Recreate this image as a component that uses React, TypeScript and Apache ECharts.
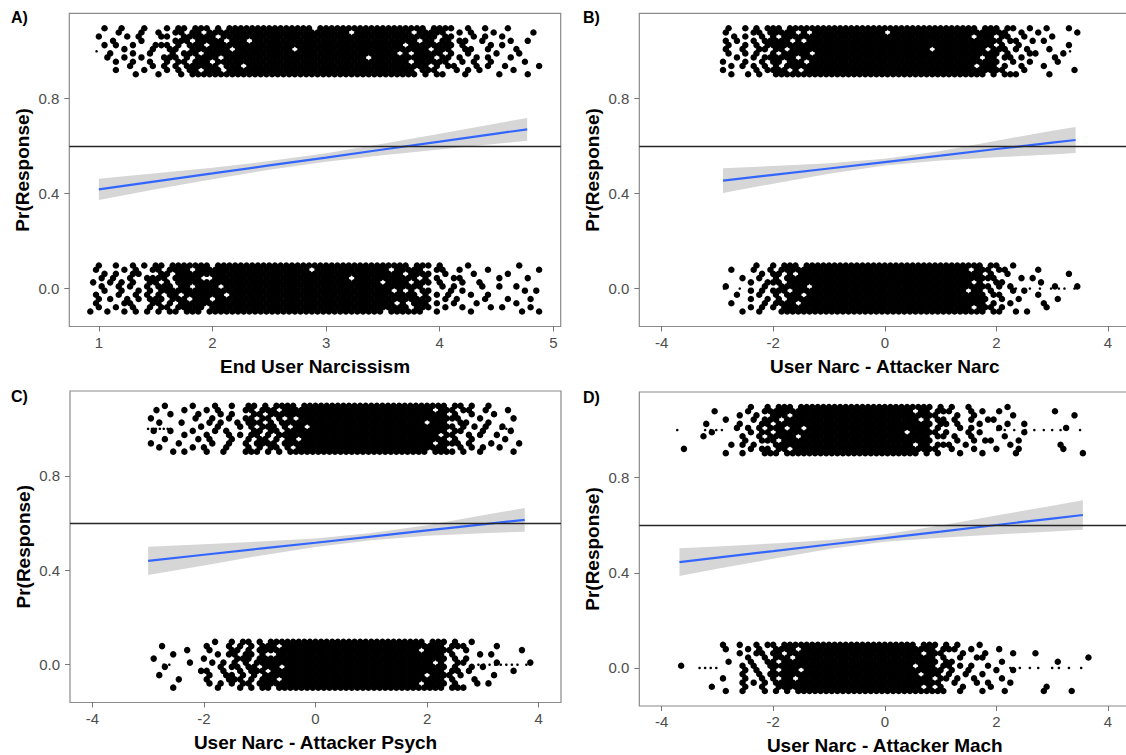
import React, { useEffect, useRef } from "react";
import * as echarts from "echarts";

// Vertical jitter rows (offset from the 0 / 1 response value)
const ROW_OFFSETS = [0.097, 0.079, 0.062, 0.044, 0.026, 0.009, -0.009, -0.026, -0.044, -0.062, -0.079, -0.097];

// Column grids of the jittered point maps ('#' = point, '.' = empty, '|' = visual separator)
const A_COL_START = 0.9;
const A_COL_STEP = 0.05;
const DIFF_COL_START = -3.8;
const DIFF_COL_STEP = 0.1;

// ---------- Panel A: End User Narcissism ----------
const A_TOP = [
  "..|.#|..#...#...|#.##.|###.|#.########|#######.##|##########|######|#.###|#..#.|.#...#.|....|.",
  "..|..|.#...#..#.|.##.#|#.##|##########|##########|###.######|####.#|####.|.#.#.|..#....|..#.|.",
  "..|#.|...#.#...#|#..##|####|.#########|##########|##########|######|###.#|#...#|.#..#..|....|.",
  "..|..|#....#....|.###.|####|#.###.####|##########|##########|#####.|##.##|.##..|#....#.|.#..|.",
  "..|.#|.#..#...##|#.#.#|##.#|##########|##########|##########|###.##|#####|#.#..|..#.#..|....|.",
  "..|..|..#....#..|##..#|####|##.#######|###.######|##########|######|#.###|..##.|.#....#|....|.",
  "..|..|#...#..#..|.#.##|#.##|##########|##########|##########|##.#.#|####.|#..#.|...#...|#...|.",
  "..|.#|..#..#...#|##.#.|####|.#########|##########|######.###|######|##.##|.#..#|.#...#.|....|.",
  "..|..|.#..#..#..|#.##.|###.|##########|##########|##########|####.#|#####|..#.#|..#....|.#..|.",
  "..|..|...#...#.#|.#.##|####|.###.#####|##########|##########|######|#.#.#|#...#|.#..#..|...#|.",
  "..|..|.#....#...|#.#.#|#.##|#.########|##########|##########|#####.|###..|.#.#.|#.....#|....|.",
  "..|..|....#...#.|..#.#|####|##########|##########|##########|#####.|#.##.|..#..|...#...|.#..|.",
];
const A_BOT = [
  ".|.#..|#..#.#.|##.##|####|#.########|##########|##########|####|##.##|#.#..|..#.....|...#...|.",
  ".|#...|.#.#..#|#.###|#.##|##########|########.#|##########|##.#|####.|.##..|#....#..|......#|.",
  ".|..#.|#..##..|.##.#|####|##########|##########|##########|####|#.###|#..#.|...#....|.#.....|.",
  ".|.#.#|..#..##|##.##|###.|.#########|##########|#####.####|####|###.#|.#..#|#......#|....#..|.",
  ".|#..#|.#.#..#|#.#.#|####|##########|##########|##########|#.##|##.##|#.#..|.#..#...|.......|.",
  ".|.#..|#.#..#.|###.#|#.##|##.#######|##########|##########|####|####.|..#.#|....#..#|..#....|.",
  ".|..#.|.#..#.#|.####|####|##########|##########|##########|###.|#.#.#|#...#|.#......|....#.#|.",
  ".|#...|#..#.#.|#.##.|####|###.######|##########|##########|####|###.#|.#.#.|..#..#..|.......|.",
  ".|.#.#|..#.#.#|##.##|#.##|#.########|##########|##########|####|#####|#..#.|#....#..|.#...#.|.",
  ".|#...|.##...#|#.#.#|####|##########|##########|##########|###.|#.###|.#..#|...#....|..#....|.",
  ".|.#..|#..#..#|.##.#|####|.#########|##########|##########|####|##.##|#..#.|.#....#.|#....#.|.",
  "#|..#.|.#.#.#.|#.##.|###.|##########|##########|##########|#.##|####.|.#...|..#.....|...#..#|.",
];
const A_TOP_SMALL = [0.98];
const A_BOT_SMALL: number[] = [];
const A_FIT_X = [1.0, 1.5, 2.0, 2.5, 3.0, 3.5, 4.0, 4.5, 4.77];
const A_FIT = [0.418, 0.452, 0.485, 0.519, 0.552, 0.586, 0.619, 0.653, 0.671];
const A_LO = [0.373, 0.418, 0.461, 0.501, 0.534, 0.562, 0.586, 0.61, 0.623];
const A_HI = [0.463, 0.486, 0.509, 0.537, 0.57, 0.61, 0.652, 0.696, 0.719];

// ---------- Panel B: User Narc - Attacker Narc ----------
const B_TOP = [
  ".........|.#..|#.#.#|##.##|##########|##########|##########|##.#|##.#|#..#|..#.|..#.|....",
  ".........|#...|.##.#|####.|#.########|#####.####|##########|####|###.|.#..|#...|...#|....",
  ".........|..#.|#..#.|#.###|##########|##########|##########|#.##|#.##|..#.|...#|....|....",
  ".........|#.#.|.#.##|###.#|.#########|##########|##########|####|##.#|#..#|.#..|....|....",
  ".........|.#..|#.#.#|#####|##########|##########|##########|####|#.#.|.#..|....|..#.|....",
  ".........|#..#|..##.|##.##|##########|##########|###.######|###.|###.|#.#.|..#.|....|....",
  ".........|.#..|#.#..|#.###|##.#######|##########|##########|####|##.#|...#|#...|.#..|....",
  ".........|..#.|.#.##|####.|##########|##########|##########|##.#|#.##|.#..|...#|....|....",
  ".........|#...|#..#.|##.##|#.########|##########|##########|####|##..|#..#|....|#...|....",
  ".........|.#.#|.#.#.|#.###|##########|##########|##########|#.##|#.#.|.#..|.#..|....|....",
  ".........|#...|..#.#|###.#|.#########|##########|##########|####|###.|..#.|....|...#|....",
  ".........|.#..|#.#..|#####|##########|##########|##########|###.|#.##|#...|..#.|....|....",
];
const B_BOT = [
  ".........|.....|.#..|#.##|#.########|##########|##########|###|#.##|..#.|.....|.....|....",
  ".........|.#...|#..#|.###|##########|##########|##########|#.#|##.#|#...|..#..|.....|....",
  ".........|.....|..#.|##.#|.#########|##########|##########|###|#.#.|.#..|.....|...#.|....",
  ".........|...#.|.#..|#.##|##########|##########|##########|###|###.|...#|.#...|.....|....",
  ".........|.....|#..#|##.#|##########|##########|##########|##.|#..#|#...|...#.|.....|....",
  ".........|#....|..#.|.###|##.#######|##########|##########|###|##.#|.#..|.....|#...#|....",
  ".........|.....|#.#.|###.|##########|##########|##########|#.#|#.#.|..#.|#....|.....|....",
  ".........|..#..|.#..|#.##|#.########|##########|##########|###|#.##|....|..#..|.....|....",
  ".........|.....|#..#|.#.#|##########|##########|##########|###|##..|#..#|.....|.#...|....",
  ".........|.#...|..#.|####|.#########|##########|##########|###|#.#.|.#..|...#.|.....|....",
  ".........|.....|#.#.|#.##|##########|##########|##########|##.|###.|#...|....#|.....|....",
  ".........|...#.|.#..|.###|##########|##########|##########|###|#.##|..#.|#....|.....|....",
];
const B_TOP_SMALL = [3.32];
const B_BOT_SMALL = [-2.88, -2.6, 2.35, 2.6, 2.78, 2.98, 3.12, 3.22, 3.4];
const B_FIT_X = [-2.9, -2, -1, 0, 1, 2, 3, 3.42];
const B_FIT = [0.455, 0.479, 0.506, 0.533, 0.56, 0.588, 0.615, 0.626];
const B_LO = [0.403, 0.442, 0.484, 0.519, 0.54, 0.553, 0.565, 0.571];
const B_HI = [0.507, 0.516, 0.528, 0.547, 0.58, 0.623, 0.665, 0.681];

// ---------- Panel C: User Narc - Attacker Psych ----------
const C_TOP = [
  "........|...#....|#...#..#..|##.#.###|#.########|##########|#######|#.##|.#..|#.....|..",
  "........|.#....#.|..#.#....#|#.###.##|##########|##########|#####.#|##.#|#..#|...#..|..",
  "........|....#...|.#...#.#..|.##.####|##########|##########|#######|#.#.|.#..|.#....|..",
  "........|#.......|#..#..#..#|#.##.#.#|.#########|##########|#######|###.|..#.|....#.|..",
  "........|..#...#.|...#.#..#.|###.#.##|##########|##########|####.##|#..#|#...|#.....|..",
  "........|........|.#..#...#.|#.###.#.|##.#######|##########|#######|##.#|.#.#|..#...|..",
  "........|.#..#...|#...#.#...|.##.##.#|##########|##########|#######|#.##|...#|....#.|..",
  "........|......#.|..#...#.#.|##.#.###|##########|##########|######.|##..|#.#.|.#....|..",
  "........|...#....|.#.#...#..|#.##.#.#|#.########|##########|#######|#.#.|.#..|...#..|..",
  "........|#....#..|...#..#..#|.####.##|##########|##########|#####.#|###.|#...|#....#|..",
  "........|..#.....|#.#...#...|#.#.##.#|.#########|##########|#######|#..#|.#.#|..#...|..",
  "........|....#.#.|..#..#...#|##.#.#.#|##########|##########|####.##|##.#|..#.|....#.|..",
];
const C_BOT = [
  ".........|.........|..#..|#.##.#.|##########|##########|########.#|##.#|..#.|....|.....",
  ".........|.#.......|#...#|.#.#.##|#.########|##########|##########|#.##|#...|..#.|.....",
  ".........|......#..|.#...|##.#.##|##########|##########|#######.##|###.|.#..|....|...#.",
  ".........|...#.....|..#.#|#.##.#.|.#########|##########|##########|#.#.|...#|.#..|.....",
  ".........|#........|#....|.###.##|##########|##########|##########|##.#|.#..|....|.....",
  ".........|......#..|.#.#.|#.#.###|##########|##########|#########.|#..#|#...|..#.|....#",
  ".........|..#......|...#.|##.##.#|##.#######|##########|##########|##.#|..#.|#...|.....",
  ".........|........#|#..#.|.#.###.|##########|##########|##########|#.##|.#..|....|.#...",
  ".........|.#.......|.#..#|#.#.#.#|##########|##########|########.#|###.|#...|..#.|.....",
  ".........|....#....|#...#|##.#.##|#.########|##########|##########|#.#.|..#.|....|.....",
  ".........|.........|.#.#.|#.##.##|##########|##########|#######.##|##.#|...#|.#..|.....",
  ".........|...#.....|..#..|.#.#.##|.#########|##########|##########|#.##|#...|....|.....",
];
const C_TOP_SMALL = [-3.0, -2.93, -2.86, -2.79, -2.72, -2.65, 3.32, 3.42, 3.52];
const C_BOT_SMALL = [-2.72, -2.62, 2.92, 3.02, 3.12, 3.22, 3.32, 3.42, 3.52, 3.62, 3.78];
const C_FIT_X = [-3.0, -2, -1, 0, 1, 2, 3, 3.75];
const C_FIT = [0.44, 0.466, 0.492, 0.517, 0.543, 0.569, 0.595, 0.614];
const C_LO = [0.38, 0.421, 0.462, 0.499, 0.528, 0.547, 0.557, 0.564];
const C_HI = [0.5, 0.511, 0.522, 0.535, 0.558, 0.591, 0.633, 0.664];

// ---------- Panel D: User Narc - Attacker Mach ----------
const D_TOP = [
  ".|...........|..#..|#.##|#.########|##########|####|##.#|.#..#...|...#.....|........|...",
  ".|......#....|.#..#|####|##########|##########|##.#|#.##|#...#.#.|.#.......|..#.....|...",
  ".|...........|#..#.|.###|.#########|##########|####|###.|..#..#..|....#....|......#.|...",
  ".|........#..|..#.#|##.#|##########|##########|###.|#.##|.#..#..#|#........|........|...",
  ".|.....#.....|#...#|#.##|##########|##########|####|##.#|#.#...#.|...#..#..|........|...",
  ".|..........#|.#.#.|###.|##.#######|##########|####|#.#.|..#.#...|.#.......|....#...|...",
  ".|......#....|..#.#|#.##|##########|##########|#.##|###.|#...#.#.|......#..|........|...",
  ".|....#......|#..#.|####|#.########|##########|####|#.##|.#..#...|..#......|........|...",
  ".|...........|.#..#|##.#|##########|##########|####|##..|..#..#.#|#....#...|........|...",
  ".|.........#.|#.#..|.###|##########|##########|##.#|#.##|#..#....|...#.....|...#....|...",
  ".|.#.........|..#.#|#.##|.#########|##########|####|###.|.#...#..|.#...#...|....#...|...",
  ".|........#..|#...#|##.#|##########|##########|###.|#.#.|..#...#.|....#....|.......#|...",
];
const D_BOT = [
  ".|........#..|#..#.#|#.#|##########|##########|###.#|##.#|.#...|#.......|............|..",
  ".|........#..|.#.#..|###|#.########|##########|#####|#.##|#..#.|...#....|............|..",
  ".|...........|#..##.|##.|##########|##########|####.|###.|..#..|.#....#.|..#.........|..",
  ".|...........|.#..#.|###|.#########|##########|#####|#.#.|.#..#|#.......|...........#|..",
  ".|.........#.|..#..#|#.#|##########|##########|#####|##.#|#....|....#...|......#.....|..",
  ".|#..........|#.#..#|###|##########|##########|##.##|#.##|.#.#.|.#......|............|..",
  ".|...........|.#.#..|#.#|##.#######|##########|#####|###.|#..#.|...#..#.|............|..",
  ".|...........|#..#.#|###|##########|##########|###.#|##.#|..#..|#.......|............|..",
  ".|........#..|.#..#.|#.#|#.########|##########|#####|#.##|.#..#|....#...|............|..",
  ".|...........|#.#.#.|###|##########|##########|#####|##..|#...#|.#...#..|............|..",
  ".|......#....|.#..#.|.##|##########|##########|####.|#.#.|..#..|..#.....|....#.......|..",
  ".|........#..|#...#.|#.#|.#########|##########|#####|###.|.#...|#...#...|...#....#...|..",
];
const D_TOP_SMALL = [-3.72, -3.22, -3.12, -3.02, -2.92, 2.02, 2.15, 2.32, 2.52, 2.68, 2.85, 3.0, 3.15, 3.5];
const D_BOT_SMALL = [-3.32, -3.22, -3.12, -3.02, 2.25, 2.42, 2.6, 2.75, 3.0, 3.12, 3.3, 3.52];
const D_FIT_X = [-3.68, -3, -2, -1, 0, 1, 2, 3, 3.55];
const D_FIT = [0.445, 0.464, 0.491, 0.519, 0.546, 0.573, 0.601, 0.628, 0.643];
const D_LO = [0.387, 0.417, 0.459, 0.5, 0.53, 0.547, 0.561, 0.574, 0.581];
const D_HI = [0.503, 0.511, 0.523, 0.538, 0.562, 0.599, 0.641, 0.682, 0.705];

// Axis ticks / labels
const A_X_TICKS = [1, 2, 3, 4, 5];
const DIFF_X_TICKS = [-4, -2, 0, 2, 4];
const Y_TICKS = [0, 0.4, 0.8];
const REF_LINE = 0.6;
const Y_TITLE = "Pr(Response)";
const PANEL_LABELS = ["A)", "B)", "C)", "D)"];
const X_TITLES = ["End User Narcissism", "User Narc - Attacker Narc", "User Narc - Attacker Psych", "User Narc - Attacker Mach"];

const FONT = '"Liberation Sans", Arial, Helvetica, sans-serif';

function gridToPoints(rows: string[], start: number, step: number, base: number) {
  const pts: number[][] = [];
  rows.forEach((row, k) => {
    const cells = row.replace(/\|/g, "");
    for (let i = 0; i < cells.length; i++) {
      if (cells[i] === "#") pts.push([start + step * (i + (k % 2) * 0.5), base + ROW_OFFSETS[k]]);
    }
  });
  return pts;
}

const PANELS = [
  {
    grid: { left: 69.3, top: 13.3, width: 491.4, height: 313.2 },
    xMin: 0.74, xMax: 5.065, xTicks: A_X_TICKS, colStart: A_COL_START, colStep: A_COL_STEP,
    top: A_TOP, bot: A_BOT, topSmall: A_TOP_SMALL, botSmall: A_BOT_SMALL,
    fitX: A_FIT_X, fit: A_FIT, lo: A_LO, hi: A_HI, labelPos: [11, 9],
  },
  {
    grid: { left: 639.3, top: 13.3, width: 491, height: 313.2 },
    xMin: -4.4, xMax: 4.4, xTicks: DIFF_X_TICKS, colStart: DIFF_COL_START, colStep: DIFF_COL_STEP,
    top: B_TOP, bot: B_BOT, topSmall: B_TOP_SMALL, botSmall: B_BOT_SMALL,
    fitX: B_FIT_X, fit: B_FIT, lo: B_LO, hi: B_HI, labelPos: [583, 9],
  },
  {
    grid: { left: 70, top: 391, width: 491, height: 311.5 },
    xMin: -4.4, xMax: 4.4, xTicks: DIFF_X_TICKS, colStart: DIFF_COL_START, colStep: DIFF_COL_STEP,
    top: C_TOP, bot: C_BOT, topSmall: C_TOP_SMALL, botSmall: C_BOT_SMALL,
    fitX: C_FIT_X, fit: C_FIT, lo: C_LO, hi: C_HI, labelPos: [11, 388],
  },
  {
    grid: { left: 639.3, top: 392, width: 491, height: 314 },
    xMin: -4.4, xMax: 4.4, xTicks: DIFF_X_TICKS, colStart: DIFF_COL_START, colStep: DIFF_COL_STEP,
    top: D_TOP, bot: D_BOT, topSmall: D_TOP_SMALL, botSmall: D_BOT_SMALL,
    fitX: D_FIT_X, fit: D_FIT, lo: D_LO, hi: D_HI, labelPos: [583, 389],
  },
];

export default function App() {
  const ref = useRef<HTMLDivElement>(null);

  useEffect(() => {
    if (!ref.current) return;
    const chart = echarts.init(ref.current, null, { renderer: "svg" });

    const grids: any[] = [];
    const xAxes: any[] = [];
    const yAxes: any[] = [];
    const series: any[] = [];

    PANELS.forEach((p, i) => {
      grids.push({
        ...p.grid,
        show: true,
        borderColor: "#8a8a8a",
        borderWidth: 1.2,
        backgroundColor: "transparent",
        containLabel: false,
        outerBoundsMode: "none",
      });
      xAxes.push({
        gridIndex: i,
        type: "value",
        min: p.xMin,
        max: p.xMax,
        axisLine: { show: false, onZero: false },
        splitLine: { show: false },
        axisTick: { show: true, length: 5, customValues: p.xTicks, lineStyle: { color: "#777", width: 1 } },
        axisLabel: {
          customValues: p.xTicks,
          color: "#4d4d4d",
          fontSize: 15,
          fontFamily: FONT,
          margin: 8,
          formatter: (v: number) => String(v),
        },
        name: X_TITLES[i],
        nameLocation: "middle",
        nameGap: 30,
        nameMoveOverlap: false,
        nameTextStyle: { fontSize: 19, fontWeight: "bold", color: "#000", fontFamily: FONT },
      });
      yAxes.push({
        gridIndex: i,
        type: "value",
        min: -0.16,
        max: 1.16,
        axisLine: { show: false, onZero: false },
        splitLine: { show: false },
        axisTick: { show: true, length: 5, customValues: Y_TICKS, lineStyle: { color: "#777", width: 1 } },
        axisLabel: {
          customValues: Y_TICKS,
          color: "#4d4d4d",
          fontSize: 15,
          fontFamily: FONT,
          margin: 10,
          formatter: (v: number) => v.toFixed(1),
        },
        name: Y_TITLE,
        nameLocation: "middle",
        nameGap: 37,
        nameMoveOverlap: false,
        nameTextStyle: { fontSize: 19, fontWeight: "bold", color: "#000", fontFamily: FONT },
      });

      const points = [
        ...gridToPoints(p.top, p.colStart, p.colStep, 1),
        ...gridToPoints(p.bot, p.colStart, p.colStep, 0),
      ];
      const small = [...p.topSmall.map((x) => [x, 1]), ...p.botSmall.map((x) => [x, 0])];

      series.push({
        type: "scatter",
        xAxisIndex: i,
        yAxisIndex: i,
        data: points,
        symbol: "circle",
        symbolSize: 6.5,
        itemStyle: { color: "#000", opacity: 1 },
        silent: true,
        z: 2,
      });
      series.push({
        type: "scatter",
        xAxisIndex: i,
        yAxisIndex: i,
        data: small,
        symbol: "circle",
        symbolSize: 2.6,
        itemStyle: { color: "#000", opacity: 1 },
        silent: true,
        z: 2,
      });
      // Confidence ribbon: polygon through hi (left→right) then lo (right→left), via the axes' scales
      series.push({
        type: "custom",
        xAxisIndex: i,
        yAxisIndex: i,
        data: [[p.fitX[0], p.lo[0]]],
        silent: true,
        z: 3,
        renderItem: (_params: any, api: any) => {
          const upper = p.fitX.map((x, j) => api.coord([x, p.hi[j]]));
          const lower = p.fitX.map((x, j) => api.coord([x, p.lo[j]])).reverse();
          return {
            type: "polygon",
            shape: { points: [...upper, ...lower] },
            style: { fill: "#d6d6d6" },
          };
        },
      });
      series.push({
        type: "line",
        xAxisIndex: i,
        yAxisIndex: i,
        data: p.fitX.map((x, j) => [x, p.fit[j]]),
        symbol: "none",
        lineStyle: { color: "#3366FF", width: 2.2 },
        silent: true,
        z: 4,
        markLine: {
          silent: true,
          symbol: ["none", "none"],
          label: { show: false },
          lineStyle: { color: "#262626", width: 1.3, type: "solid" },
          data: [{ yAxis: REF_LINE }],
        },
      });
    });

    chart.setOption({
      animation: false,
      backgroundColor: "#ffffff",
      grid: grids,
      xAxis: xAxes,
      yAxis: yAxes,
      series,
      graphic: PANELS.map((p, i) => ({
        type: "text",
        left: p.labelPos[0],
        top: p.labelPos[1],
        style: { text: PANEL_LABELS[i], font: `bold 16px ${FONT}`, fill: "#000" },
      })),
    });

    return () => chart.dispose();
  }, []);

  return (
    <div
      ref={ref}
      style={{ position: "fixed", left: 0, top: 0, width: 1126, height: 755, background: "#fff" }}
    />
  );
}
